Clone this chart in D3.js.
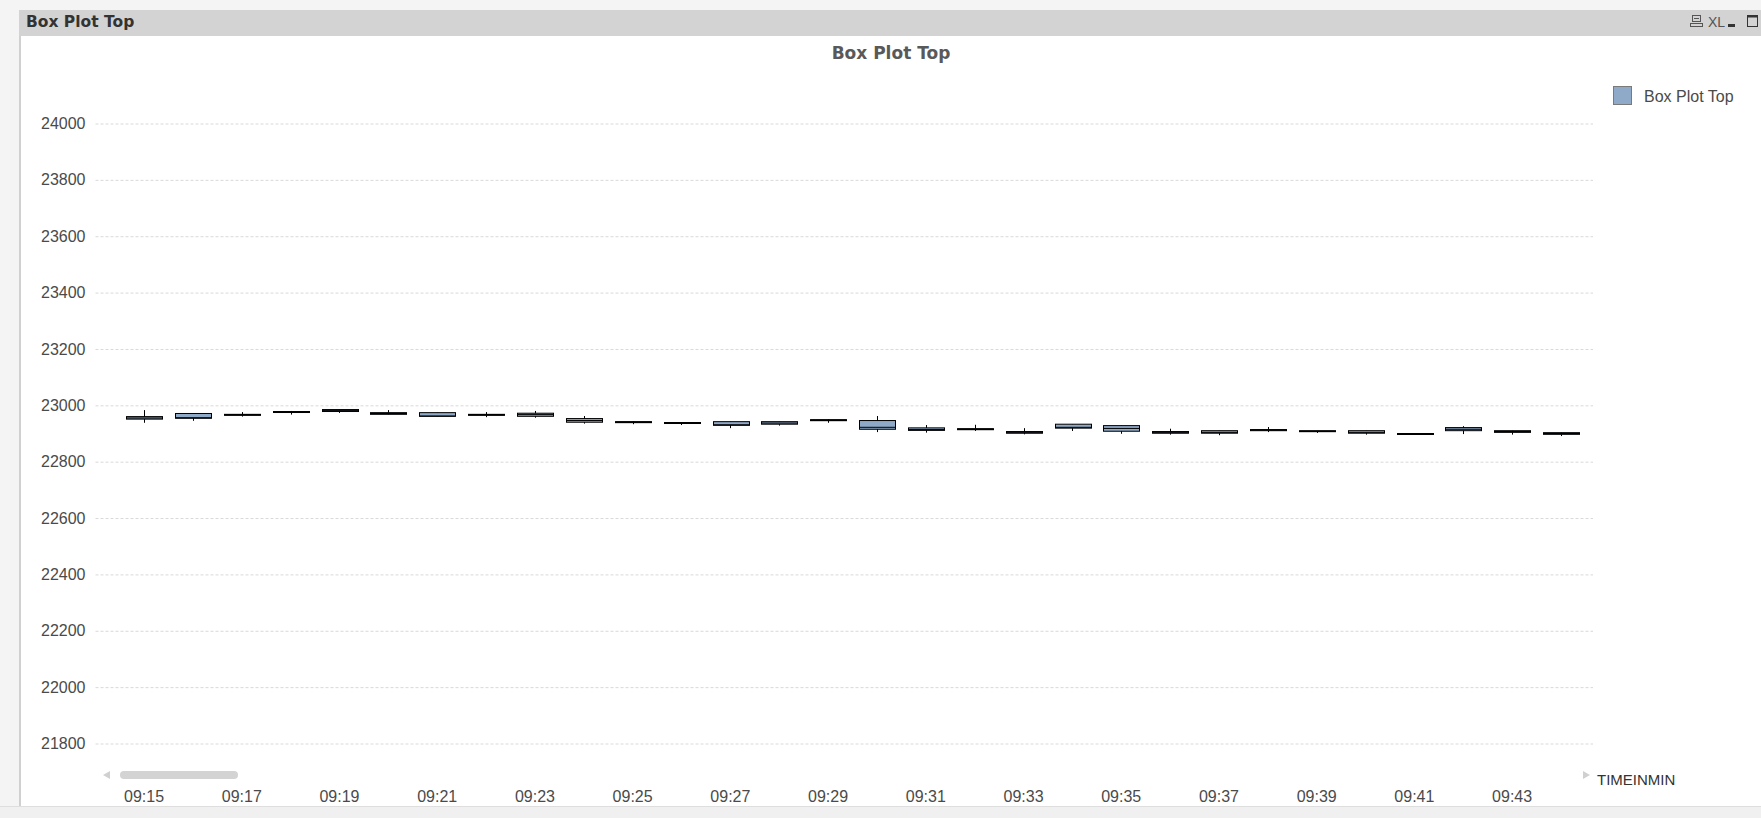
<!DOCTYPE html>
<html>
<head>
<meta charset="utf-8">
<script src="https://cdn.jsdelivr.net/npm/d3@7"></script>
<style>
  html, body { margin: 0; padding: 0; background: #f4f4f4; }
  svg { display: block; }
  text { font-family: "Liberation Sans", Arial, sans-serif; }
</style>
</head>
<body>
<svg id="chart" width="1761" height="818"></svg>
<script>
// ---- data ----
const times = ["09:15","09:16","09:17","09:18","09:19","09:20","09:21","09:22","09:23","09:24",
               "09:25","09:26","09:27","09:28","09:29","09:30","09:31","09:32","09:33","09:34",
               "09:35","09:36","09:37","09:38","09:39","09:40","09:41","09:42","09:43","09:44"];
const whiskerHigh = [22983,22972,22976,22980,22985,22983,22974,22976,22980,22962,
                     22944,22939,22942,22942,22950,22962,22930,22931,22919,22933,
                     22928,22917,22910,22923,22910,22910,22900,22926,22910,22903];
const q3 =          [22960,22971,22968,22978,22985,22974,22974,22968,22972,22953,
                     22942,22939,22942,22942,22949,22946,22920,22917,22907,22933,
                     22928,22907,22910,22914,22910,22910,22900,22921,22910,22903];
const median =      [22955,22956,22966,22976,22982,22971,22962,22966,22967,22946,
                     22941,22937,22931,22937,22948,22922,22914,22916,22903,22922,
                     22918,22903,22904,22912,22908,22904,22898,22915,22907,22900];
const q1 =          [22951,22954,22965,22975,22978,22968,22961,22965,22961,22940,
                     22940,22936,22929,22933,22947,22915,22911,22914,22901,22919,
                     22908,22901,22901,22910,22907,22901,22897,22910,22904,22897];
const whiskerLow =  [22938,22945,22960,22967,22973,22968,22961,22958,22956,22935,
                     22933,22930,22919,22928,22938,22905,22903,22909,22897,22909,
                     22899,22896,22894,22905,22902,22896,22897,22898,22896,22891];
const yTicks = [21800,22000,22200,22400,22600,22800,23000,23200,23400,23600,23800,24000];
const xTickLabels = times.filter((d, i) => i % 2 === 0);
const chartTitle = "Box Plot Top";
const seriesName = "Box Plot Top";
const xAxisTitle = "TIMEINMIN";

const rows = times.map((t, i) => ({t, wh: whiskerHigh[i], q3: q3[i], med: median[i], q1: q1[i], wl: whiskerLow[i]}));

// ---- layout ----
const svg = d3.select("#chart");
const W = 1761, H = 818;
const boxFill = "#8fa9c8";

// page frame
svg.append("rect").attr("x", 0).attr("y", 0).attr("width", W).attr("height", H).attr("fill", "#f4f4f4");
svg.append("rect").attr("x", 19).attr("y", 10).attr("width", W - 19).attr("height", 796).attr("fill", "#ffffff");
svg.append("rect").attr("x", 19).attr("y", 10).attr("width", 2).attr("height", 796).attr("fill", "#d0d0d0");
svg.append("rect").attr("x", 19).attr("y", 10).attr("width", W - 19).attr("height", 26).attr("fill", "#d3d3d3");
svg.append("rect").attr("x", 0).attr("y", 806).attr("width", W).attr("height", 12).attr("fill", "#f0f0f0");
svg.append("rect").attr("x", 0).attr("y", 806).attr("width", W).attr("height", 1).attr("fill", "#dedede");

// caption
svg.append("text").attr("x", 26).attr("y", 27).text(chartTitle)
  .style("font-family", "'DejaVu Sans', sans-serif").style("font-weight", "bold")
  .style("font-size", "15.5px").attr("fill", "#333");

// caption icons
const ic = svg.append("g").attr("fill", "none").attr("stroke", "#555").attr("stroke-width", 1);
ic.append("rect").attr("x", 1692.5).attr("y", 15.5).attr("width", 8).attr("height", 6);
ic.append("line").attr("x1", 1694).attr("x2", 1699).attr("y1", 18.5).attr("y2", 18.5);
ic.append("rect").attr("x", 1690.5).attr("y", 23.5).attr("width", 12).attr("height", 3);
svg.append("text").attr("x", 1708).attr("y", 27).text("XL")
  .style("font-family", "'Liberation Sans Narrow', 'Liberation Sans', sans-serif")
  .style("font-size", "14px").attr("fill", "#555");
svg.append("rect").attr("x", 1728).attr("y", 24).attr("width", 7).attr("height", 3).attr("fill", "#333");
ic.append("rect").attr("x", 1747.5).attr("y", 15.5).attr("width", 10).attr("height", 11).attr("stroke", "#333");
svg.append("rect").attr("x", 1747).attr("y", 15).attr("width", 11).attr("height", 2.5).attr("fill", "#333");

// chart title
svg.append("text").attr("x", 891).attr("y", 59).attr("text-anchor", "middle").text(chartTitle)
  .style("font-family", "'DejaVu Sans', sans-serif").style("font-weight", "bold")
  .style("font-size", "17px").attr("fill", "#595959");

// scales
const y = d3.scaleLinear().domain([21800, 24000]).range([743.5, 123.5]);
const x = d3.scaleBand().domain(times).range([119.6, 1585.4]).paddingInner(0.27).paddingOuter(0.135);

const gridLeft = 95.5, gridRight = 1593;

// y axis + grid
const yAxis = svg.append("g").attr("transform", `translate(${gridLeft},0)`)
  .call(d3.axisLeft(y).tickValues(yTicks).tickFormat(d3.format("d"))
        .tickSize(-(gridRight - gridLeft)).tickPadding(10));
yAxis.select(".domain").remove();
yAxis.selectAll(".tick line").attr("stroke", "#d9d9d9").attr("stroke-dasharray", "3,2");
yAxis.selectAll(".tick text").attr("fill", "#4a4a4a").style("font-size", "16px")
  .style("font-family", "'Liberation Sans', Arial, sans-serif");

// x axis labels
const xAxis = svg.append("g").attr("transform", "translate(0,791)")
  .call(d3.axisBottom(x).tickValues(xTickLabels).tickSize(0).tickPadding(0));
xAxis.select(".domain").remove();
xAxis.selectAll(".tick text").attr("fill", "#4a4a4a").style("font-size", "16px")
  .style("font-family", "'Liberation Sans', Arial, sans-serif");

// boxes
const g = svg.append("g");
const bw = x.bandwidth();
const box = g.selectAll("g.box").data(rows).join("g").attr("class", "box");
box.append("line")
  .attr("x1", d => Math.round(x(d.t) + bw / 2) + 0.5).attr("x2", d => Math.round(x(d.t) + bw / 2) + 0.5)
  .attr("y1", d => y(d.wh)).attr("y2", d => y(d.wl))
  .attr("stroke", "#000").attr("stroke-width", 1);
box.append("rect")
  .attr("x", d => Math.round(x(d.t)) + 0.5).attr("width", Math.round(bw))
  .attr("y", d => y(d.q3)).attr("height", d => Math.max(y(d.q1) - y(d.q3), 1))
  .attr("fill", boxFill).attr("stroke", "#000").attr("stroke-width", 1);
box.append("line")
  .attr("x1", d => Math.round(x(d.t)) + 0.5).attr("x2", d => Math.round(x(d.t)) + 0.5 + Math.round(bw))
  .attr("y1", d => y(d.med)).attr("y2", d => y(d.med))
  .attr("stroke", "#000").attr("stroke-width", 1);

// legend
svg.append("rect").attr("x", 1613.5).attr("y", 86.5).attr("width", 18).attr("height", 18)
  .attr("fill", boxFill).attr("stroke", "#7a7a7a");
svg.append("text").attr("x", 1644).attr("y", 101.5).text(seriesName)
  .style("font-size", "16px").attr("fill", "#4a4a4a");

// scroll bar + axis title
svg.append("path").attr("d", "M103,775 L110,771 L110,779 Z").attr("fill", "#d0d0d0");
svg.append("rect").attr("x", 120).attr("y", 771).attr("width", 118).attr("height", 8).attr("rx", 4).attr("fill", "#d3d3d3");
svg.append("path").attr("d", "M1590,775 L1583,771 L1583,779 Z").attr("fill", "#d0d0d0");
svg.append("text").attr("x", 1597).attr("y", 785).text(xAxisTitle)
  .style("font-size", "15px").attr("fill", "#333");
</script>
</body>
</html>
